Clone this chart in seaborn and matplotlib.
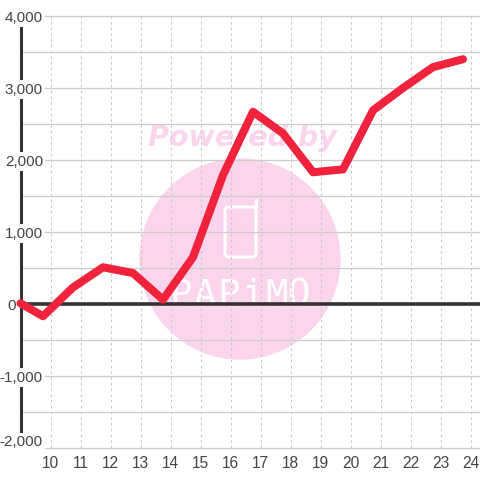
import numpy as np
import pandas as pd
import matplotlib
matplotlib.use("Agg")
import matplotlib.pyplot as plt
import seaborn as sns
from matplotlib.patches import Circle, FancyBboxPatch
from matplotlib.transforms import IdentityTransform

hours = [9.0, 9.75, 10.75, 11.75, 12.75, 13.75, 14.75, 15.75, 16.75, 17.75, 18.75, 19.75, 20.75, 21.75, 22.75, 23.75]
values = [10, -170, 230, 510, 430, 60, 650, 1790, 2670, 2370, 1830, 1870, 2690, 3000, 3290, 3400]
x_ticks = list(range(10, 25))
y_ticks = [4000, 3000, 2000, 1000, 0, -1000, -2000]
y_labels = ["4,000", "3,000", "2,000", "1,000", "0", "-1,000", "-2,000"]
y_minor = [3500, 2500, 1500, 500, -500, -1500]

sns.set_theme(style="white")
plt.rcParams["font.family"] = ["Liberation Sans", "DejaVu Sans"]

fig = plt.figure(figsize=(4.8, 4.8), dpi=100)
ax = fig.add_axes([20.5 / 480, 32 / 480, 459.5 / 480, 432 / 480])
ax.set_xlim(9, 9 + 459.5 / 30)
ax.set_ylim(-2000, 4000)

# watermark, in pixels
pink = "#fbd5ee"
px = IdentityTransform()
ax.add_patch(Circle((240, 221), 100, color=pink, transform=px, zorder=0.1))
ax.add_patch(FancyBboxPatch((225, 223), 31, 50, boxstyle="round,pad=0,rounding_size=4", fc="none", ec="white",
                            lw=2.2, transform=px, zorder=0.2))
ax.plot([255.5, 255.5], [272, 280], color="white", lw=2.4, transform=px, solid_capstyle="round", zorder=0.2)
ax.text(242, 334, "Powered by", color=pink, fontsize=20.5, family="DejaVu Sans", weight="bold", style="italic",
        ha="center", va="baseline", transform=px, zorder=0.2)
for lx, letter in zip([181, 205, 229, 253, 277, 299], "PAPiMO"):
    ax.text(lx, 174, letter, color="white", fontsize=27, family="DejaVu Sans Mono",
            ha="center", va="baseline", transform=px, zorder=0.2)

ax.set_axisbelow(True)
ax.set_xticks(x_ticks)
ax.set_yticks(y_ticks)
ax.set_yticks(y_minor, minor=True)
ax.grid(axis="y", which="both", color="#cccccc", lw=0.9, clip_on=False)
ax.grid(axis="x", which="major", color="#c8c8c8", lw=0.75, ls=(0, (2.5, 3)))
ax.tick_params(axis="both", which="both", length=0)
ax.tick_params(axis="y", labelleft=False)
ax.tick_params(axis="x", labelsize=11.2, labelcolor="#444444", pad=5.5)
for s in ax.spines.values():
    s.set_visible(False)

ax.axvline(9, color="#333333", lw=2.2, clip_on=False, zorder=0.6)
ax.axhline(0, color="#333333", lw=2.6, zorder=0.6)

for val, lab in zip(y_ticks, y_labels):
    dx = -4.5 if val == 0 else 22.5
    dy = 7 if val == -2000 else 0
    ax.annotate(lab, (0, val), xycoords=ax.get_yaxis_transform(), xytext=(dx, dy), textcoords="offset pixels",
                ha="right", va="center_baseline", fontsize=11, color="#444444", annotation_clip=False, zorder=1,
                bbox=dict(fc="white", ec="none", pad=1.5))

df = pd.DataFrame({"hour": hours, "value": values})
sns.lineplot(data=df, x="hour", y="value", color="#f0233c", lw=5.8, ax=ax, zorder=3, clip_on=False)
ax.set_xlabel("")
ax.set_ylabel("")
fig.savefig("out.png", dpi=100)
